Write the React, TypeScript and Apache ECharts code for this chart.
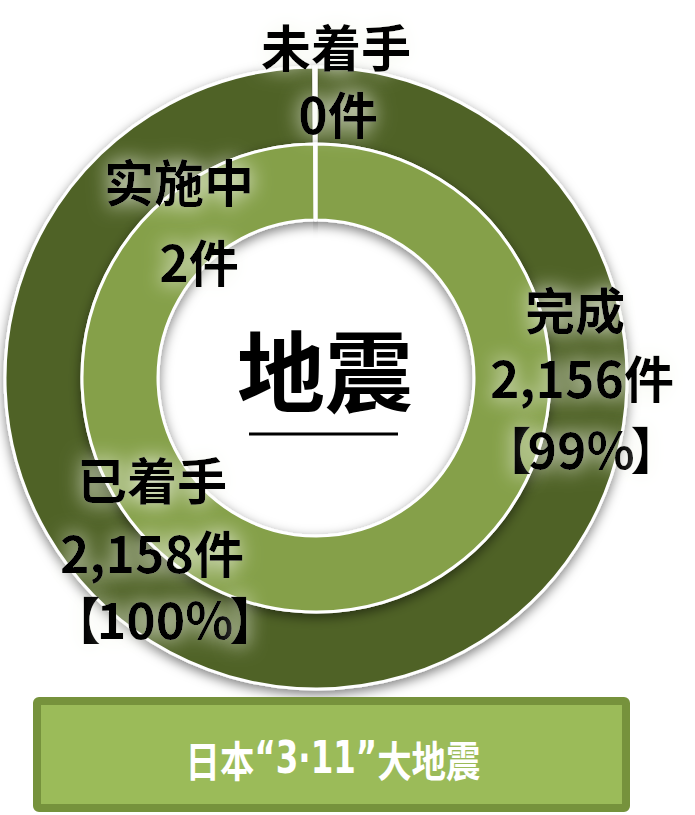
import { useEffect, useRef } from 'react';
import * as echarts from 'echarts';

// outer ring: started / not started
const outerNames = ['已着手', '未着手'];
const outerValues = [2158, 0];
const outerShares = ['【100%】', ''];
const outerColors = ['#4F6228', '#4F6228'];

// inner ring: done / in progress
const innerNames = ['完成', '实施中'];
const innerValues = [2156, 2];
const innerShares = ['【99%】', ''];
const innerColors = ['#85A04A', '#85A04A'];

const centerTitle = '地震';
const footerParts = ['日本', '“3·11”', '大地震'];

// label anchors (centre x / centre y of every line)
const labelPos: Record<string, { x: number[]; y: number[] }> = {
  '未着手': { x: [336, 338], y: [45, 112] },
  '实施中': { x: [179, 199], y: [180, 260] },
  '完成': { x: [575, 582, 581], y: [308, 376, 447] },
  '已着手': { x: [152, 152, 165], y: [478, 551, 617] },
};

const FONT = '"Noto Sans CJK SC", "Noto Sans CJK JP", sans-serif';
const NARROW = '"Liberation Sans Narrow", "DejaVu Sans Condensed", "Liberation Sans", sans-serif';
const LABEL_SIZE = 50;

const measure = (text: string, font: string) => {
  const ctx = document.createElement('canvas').getContext('2d');
  if (!ctx) return text.length * 30;
  ctx.font = font;
  return ctx.measureText(text).width;
};

const glowText = (text: string, x: number, y: number, align: string) => ({
  type: 'text',
  x,
  y,
  z: 20,
  silent: true,
  style: {
    text,
    fill: '#000',
    font: `bold ${LABEL_SIZE}px ${FONT}`,
    textAlign: align,
    textVerticalAlign: 'middle',
    textShadowColor: 'rgba(245,248,238,1)',
    textShadowBlur: 20,
  },
});

const labelLines = (name: string, value: number, share: string) => {
  const pos = labelPos[name];
  const lines = [name, value.toLocaleString('en-US') + '件'];
  if (share) lines.push(share);
  const els: any[] = [];
  lines.forEach((line, i) => {
    const x = pos.x[i];
    const y = pos.y[i];
    if (line.startsWith('【')) {
      const inner = line.slice(1, -1);
      const w = measure(inner, `bold ${LABEL_SIZE}px ${FONT}`);
      els.push(glowText('【', x - w / 2 + 4, y, 'right'));
      els.push(glowText(inner, x, y, 'center'));
      els.push(glowText('】', x + w / 2 - 4, y, 'left'));
    } else {
      els.push(glowText(line, x, y, 'center'));
    }
  });
  return els;
};

export default function App() {
  const chartRef = useRef<HTMLDivElement>(null);

  useEffect(() => {
    if (!chartRef.current) return;
    const chart = echarts.init(chartRef.current, undefined, { renderer: 'svg' });

    const ringStyle = {
      borderColor: '#ffffff',
      borderWidth: 3,
      shadowBlur: 12,
      shadowColor: 'rgba(0,0,0,0.5)',
      shadowOffsetY: 4,
    };

    const labels: any[] = [];
    outerNames.forEach((n, i) => labels.push(...labelLines(n, outerValues[i], outerShares[i])));
    innerNames.forEach((n, i) => labels.push(...labelLines(n, innerValues[i], innerShares[i])));

    const option = {
      animation: false,
      backgroundColor: '#ffffff',
      series: [
        {
          type: 'pie',
          center: [316, 378],
          radius: [234, 311],
          startAngle: 90,
          clockwise: true,
          minAngle: 0.4,
          silent: true,
          label: { show: false },
          labelLine: { show: false },
          itemStyle: ringStyle,
          data: outerNames.map((n, i) => ({
            name: n,
            value: outerValues[i],
            itemStyle: { color: outerColors[i] },
          })),
        },
        {
          type: 'pie',
          center: [316, 378],
          radius: [158, 234],
          startAngle: 90,
          clockwise: true,
          silent: true,
          label: { show: false },
          labelLine: { show: false },
          itemStyle: ringStyle,
          data: innerNames.map((n, i) => ({
            name: n,
            value: innerValues[i],
            itemStyle: { color: innerColors[i] },
          })),
        },
      ],
      graphic: [
        {
          type: 'text',
          x: 325,
          y: 366,
          z: 20,
          silent: true,
          style: {
            text: centerTitle,
            fill: '#000',
            font: `bold 88px ${FONT}`,
            textAlign: 'center',
            textVerticalAlign: 'middle',
          },
        },
        {
          type: 'line',
          z: 20,
          silent: true,
          shape: { x1: 249, y1: 434, x2: 398, y2: 434 },
          style: { stroke: '#000', lineWidth: 3 },
        },
        ...labels,
        {
          type: 'rect',
          z: 10,
          silent: true,
          shape: { x: 37, y: 701, width: 589, height: 107, r: 2 },
          style: { fill: '#9BBB59', stroke: '#76923C', lineWidth: 8 },
        },
        {
          type: 'text',
          x: 333,
          y: 758,
          z: 11,
          scaleX: 0.82,
          silent: true,
          style: {
            text: `{a|${footerParts[0]}}{b|${footerParts[1]}}{a|${footerParts[2]}}`,
            fill: '#ffffff',
            textAlign: 'center',
            textVerticalAlign: 'middle',
            rich: {
              a: { fill: '#ffffff', font: `bold 42px ${FONT}` },
              b: { fill: '#ffffff', font: `bold 44px ${NARROW}` },
            },
          },
        },
      ],
    };

    chart.setOption(option);
    return () => chart.dispose();
  }, []);

  return (
    <div
      ref={chartRef}
      style={{ position: 'absolute', left: 0, top: 0, width: 695, height: 815 }}
    />
  );
}
